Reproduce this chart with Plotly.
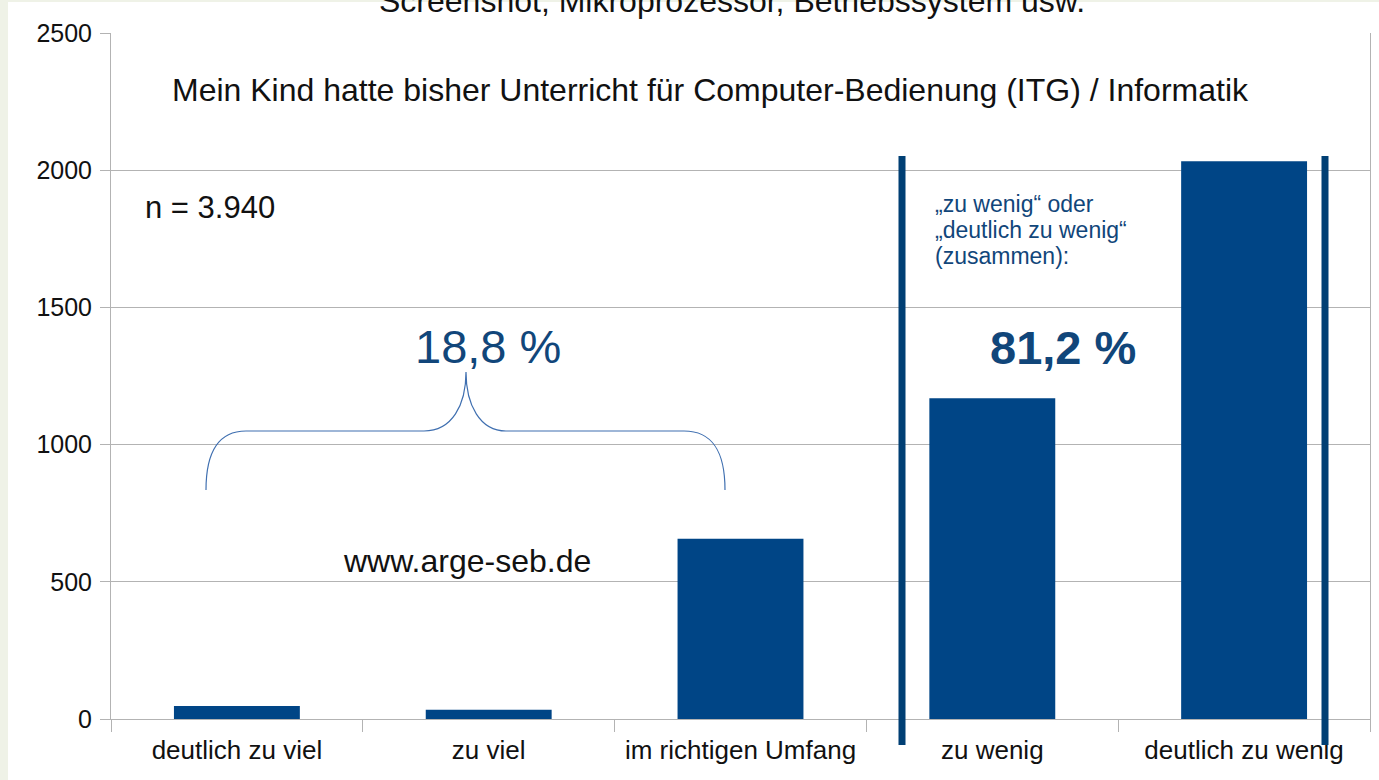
import plotly.graph_objects as go

categories = ["deutlich zu viel", "zu viel", "im richtigen Umfang", "zu wenig", "deutlich zu wenig"]
counts = [47, 34, 657, 1169, 2033]
y_ticks = [0, 500, 1000, 1500, 2000, 2500]

title_cut = "Screenshot, Mikroprozessor, Betriebssystem usw."
title_main = "Mein Kind hatte bisher Unterricht für Computer-Bedienung (ITG) / Informatik"
n_label = "n = 3.940"
pct_low = "18,8 %"
pct_high = "81,2 %"
note_lines = ["„zu wenig“ oder", "„deutlich zu wenig“", "(zusammen):"]
source = "www.arge-seb.de"

W, H = 1379, 780
ML, MR, MT, MB = 111, 9, 33, 61
PW, PH = W - ML - MR, H - MT - MB
YMAX = 2500

def px(x):   # pixel x -> paper x
    return (x - ML) / PW

def py(y):   # pixel y -> paper y
    return (H - MB - y) / PH

def cx(x):   # pixel x -> category-axis data x
    return (x - ML) / PW * len(categories) - 0.5

def vy(y):   # pixel y -> value-axis data y
    return (H - MB - y) / PH * YMAX

BAR = "#004586"
DARK = "#11467a"
FONT = "Liberation Sans"

fig = go.Figure()
fig.add_trace(go.Bar(x=categories, y=counts, marker=dict(color=BAR, line=dict(width=0)),
                     hoverinfo="x+y"))

# curly brace over the first three categories
L, LA, LB, C, RB, RA, R = cx(206), cx(246), cx(424), cx(466), cx(506), cx(684), cx(725)
yb, yh, yp = vy(490), vy(431), vy(372)
brace = (f"M {L},{yb} C {L},{vy(452)} {cx(218)},{yh} {LA},{yh} "
         f"L {LB},{yh} C {cx(452)},{yh} {C},{vy(405)} {C},{yp} "
         f"C {C},{vy(405)} {cx(480)},{yh} {RB},{yh} "
         f"L {RA},{yh} C {cx(713)},{yh} {R},{vy(452)} {R},{yb}")

shapes = [
    dict(type="rect", xref="paper", yref="paper", x0=px(0), x1=px(8), y0=py(H), y1=py(0),
         fillcolor="#eff2e7", line=dict(width=0), layer="below"),
    dict(type="rect", xref="paper", yref="paper", x0=px(0), x1=px(W), y0=py(2), y1=py(0),
         fillcolor="#eff2e7", line=dict(width=0), layer="below"),
    dict(type="path", xref="x", yref="y", path=brace, line=dict(color="#3f6fb0", width=1.2)),
    dict(type="line", xref="x", yref="paper", x0=cx(902), x1=cx(902), y0=py(745), y1=py(156),
         line=dict(color="#003f74", width=7)),
    dict(type="line", xref="x", yref="paper", x0=cx(1325), x1=cx(1325), y0=py(745), y1=py(156),
         line=dict(color="#003f74", width=7)),
]

annotations = [
    dict(text=title_cut, x=px(732), y=py(1), xref="paper", yref="paper", showarrow=False,
         xanchor="center", yanchor="middle", font=dict(size=32, color="#111111", family=FONT)),
    dict(text=title_main, x=px(710), y=py(90), xref="paper", yref="paper", showarrow=False,
         xanchor="center", yanchor="middle", font=dict(size=32, color="#111111", family=FONT)),
    dict(text=n_label, x=px(143), y=py(208), xref="paper", yref="paper", showarrow=False,
         xanchor="left", yanchor="middle", font=dict(size=31, color="#111111", family=FONT)),
    dict(text=pct_low, x=px(488), y=py(346), xref="paper", yref="paper", showarrow=False,
         xanchor="center", yanchor="middle", font=dict(size=47, color=DARK, family=FONT)),
    dict(text=f"<b>{pct_high}</b>", x=px(1063), y=py(347), xref="paper", yref="paper", showarrow=False,
         xanchor="center", yanchor="middle", font=dict(size=47, color=DARK, family=FONT)),
    dict(text=source, x=px(467), y=py(561), xref="paper", yref="paper", showarrow=False,
         xanchor="center", yanchor="middle", font=dict(size=32, color="#111111", family=FONT)),
]
for i, line in enumerate(note_lines):
    annotations.append(dict(text=line, x=px(933), y=py(204 + 26 * i), xref="paper", yref="paper",
                            showarrow=False, xanchor="left", yanchor="middle",
                            font=dict(size=23, color=DARK, family=FONT)))

fig.update_layout(
    width=W, height=H,
    margin=dict(l=ML, r=MR, t=MT, b=MB, pad=0),
    paper_bgcolor="white", plot_bgcolor="white",
    bargap=0.5, showlegend=False,
    font=dict(family=FONT, size=26, color="#111111"),
    shapes=shapes, annotations=annotations,
    xaxis=dict(type="category", tickson="boundaries", ticks="outside", ticklen=12,
               tickcolor="#b3b3b3", showgrid=False, showline=True, linecolor="#b3b3b3",
               tickfont=dict(size=26, family=FONT, color="#111111"), ticklabelstandoff=8,
               range=[-0.5, len(categories) - 0.5], fixedrange=True),
    yaxis=dict(range=[0, YMAX], tickvals=y_ticks, ticktext=[str(v) for v in y_ticks],
               ticks="outside", ticklen=10, tickcolor="#b3b3b3", showgrid=True,
               gridcolor="#b3b3b3", gridwidth=1, showline=True, mirror=True,
               linecolor="#b3b3b3", zeroline=False, ticklabelstandoff=3,
               tickfont=dict(size=25, family=FONT, color="#111111"), fixedrange=True),
)

fig.write_html("out.html", config={"displayModeBar": False},
               post_script="document.body.style.margin='0';")
